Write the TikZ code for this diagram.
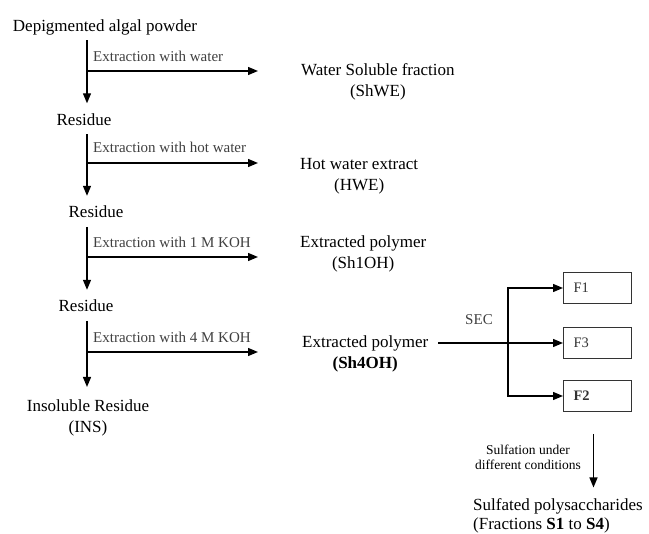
\documentclass[tikz,border=0pt]{standalone}
\usepackage{fontspec}
\setmainfont{Liberation Serif}
\usetikzlibrary{arrows.meta}

\begin{document}
\begin{tikzpicture}[x=1pt,y=-1pt,
        arr/.style={-{Triangle[length=10pt,width=8pt]},line width=1.3pt,shorten <=5pt,shorten >=10pt},
        txt/.style={font=\fontsize{17}{21}\selectfont,align=center,inner sep=0pt},
        oneline/.style={txt,text height=12pt,text depth=3.8pt},
        lbl/.style={font=\fontsize{15}{16}\selectfont,text=black!75,inner sep=0pt},
        frac/.style={draw=black!80,line width=1pt,font=\fontsize{14.5}{16}\selectfont,text=black!80,
            text width=48pt,inner xsep=10pt,minimum height=31pt,align=left}]
        \useasboundingbox (0,0) rectangle (649,534);

        \coordinate (axis) at (87,0);

        \node[oneline,anchor=base] (powder) at (105,31.5) {Depigmented algal powder};
        \node[oneline,anchor=base] (res1) at (84,125.5) {Residue};
        \node[oneline,anchor=base] (res2) at (96,218) {Residue};
        \node[oneline,anchor=base] (res3) at (86,312) {Residue};
        \node[txt,anchor=north] (ins) at (88,400) {Insoluble Residue\\(INS)};

        \draw[arr] (powder.south -| axis) -- (res1.north -| axis);
        \draw[arr] (res1.south -| axis) -- (res2.north -| axis);
        \draw[arr] (res2.south -| axis) -- (res3.north -| axis);
        \draw[arr,shorten >=13pt] (res3.south -| axis) -- (ins.north -| axis);

        \node[txt,anchor=west] (shwe) at (301,82) {Water Soluble fraction\\(ShWE)};
        \node[txt,anchor=west] (hwe) at (300,176) {Hot water extract\\(HWE)};
        \node[txt,anchor=west] (sh1) at (300,254) {Extracted polymer\\(Sh1OH)};
        \node[txt,anchor=west] (sh4) at (302,354) {Extracted polymer\\\textbf{(Sh4OH)}};

        \coordinate (b1) at (87,71);
        \coordinate (b2) at (87,163);
        \coordinate (b3) at (87,257);
        \coordinate (b4) at (87,352);

        \draw[arr,shorten <=0pt,shorten >=43pt] (b1) -- (b1 -| shwe.west);
        \draw[arr,shorten <=0pt,shorten >=42pt] (b2) -- (b2 -| hwe.west);
        \draw[arr,shorten <=0pt,shorten >=42pt] (b3) -- (b3 -| sh1.west);
        \draw[arr,shorten <=0pt,shorten >=44pt] (b4) -- (b4 -| sh4.west);

        \node[lbl,anchor=west] (lab1) at (93,56) {Extraction with water};
        \node[lbl,anchor=west] (lab2) at (93,147.5) {Extraction with hot water};
        \node[lbl,anchor=west] (lab3) at (93,242) {Extraction with 1 M KOH};
        \node[lbl,anchor=west] (lab4) at (93,337) {Extraction with 4 M KOH};

        \node[frac,anchor=west] (f1) at (563,288) {F1};
        \node[frac,anchor=west] (f3) at (563,343) {F3};
        \node[frac,anchor=west] (f2) at (563,396) {\textbf{F2}};

        \coordinate (fork) at (508,0);
        \draw[arr,shorten <=10pt,shorten >=0pt] (sh4.east |- f3.west) -- (f3.west);
        \draw[{Triangle[length=10pt,width=8pt]}-{Triangle[length=10pt,width=8pt]},line width=1.3pt]
            (f1.west) -- (fork |- f1.west) -- (fork |- f2.west) -- (f2.west);
        \node[lbl] (sec) at (479,320) {SEC};

        \node[txt,font=\fontsize{17}{19}\selectfont,anchor=north west,align=left] (sulf) at (473,498.5) {Sulfated polysaccharides\\(Fractions \textbf{S1} to \textbf{S4})};
        \draw[arr,shorten <=22pt,shorten >=11pt] ([xshift=-4pt]f2.south) -- ([xshift=-4pt]f2.south |- sulf.north);
        \node[txt,font=\fontsize{13.5}{15}\selectfont] (cond) at (528,457) {Sulfation under\\different conditions};
\end{tikzpicture}
\end{document}
